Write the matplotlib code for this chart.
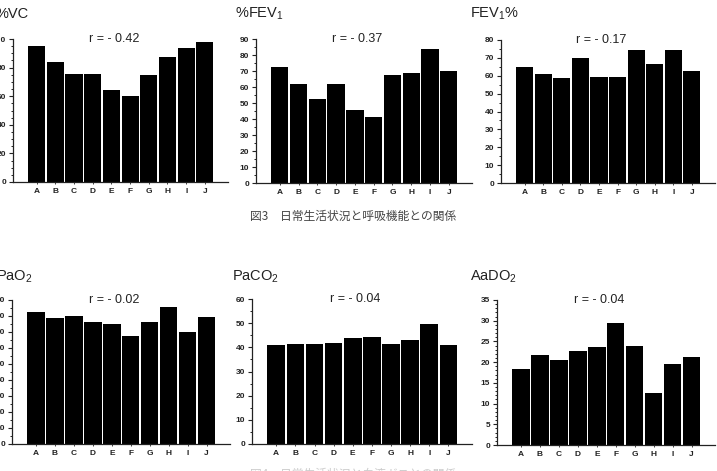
import matplotlib
matplotlib.use("Agg")
from matplotlib import pyplot as plt
from matplotlib.ticker import MultipleLocator

plt.rcParams['font.family'] = ['Liberation Sans', 'DejaVu Sans']
plt.rcParams['mathtext.default'] = 'regular'

CATEGORIES = ['A', 'B', 'C', 'D', 'E', 'F', 'G', 'H', 'I', 'J']

# 上段: 呼吸機能
VC = [95.1, 84.2, 75.6, 75.6, 64.4, 59.8, 74.9, 87.2, 93.5, 97.9]
FEV1 = [72.2, 61.8, 52.8, 61.8, 45.9, 41.1, 67.2, 68.5, 83.7, 70.1]
FEV1_RATIO = [65.0, 60.7, 58.7, 70.1, 59.1, 59.4, 74.2, 66.5, 74.2, 62.8]
# 下段: 血液ガス
PAO2 = [82.3, 78.6, 79.8, 76.5, 75.3, 67.4, 76.5, 85.9, 70.3, 79.6]
PACO2 = [41.0, 41.3, 41.3, 41.7, 43.7, 44.2, 41.3, 43.2, 49.7, 40.9]
AADO2 = [18.4, 21.8, 20.4, 22.8, 23.6, 29.4, 23.8, 12.6, 19.5, 21.3]

TITLES = ['%VC', '%FEV$_1$', 'FEV$_1$%', 'PaO$_2$', 'PaCO$_2$', 'AaDO$_2$']
R_LABELS = ['r = - 0.42', 'r = - 0.37', 'r = - 0.17',
            'r = - 0.02', 'r = - 0.04', 'r = - 0.04']
YMAX = [100, 90, 80, 90, 60, 35]
YSTEP = [20, 10, 10, 10, 10, 5]
YMINOR = [5, 5, 5, 5, 5, 1]
SERIES = [VC, FEV1, FEV1_RATIO, PAO2, PACO2, AADO2]

CAPTION_TOP = '図3　日常生活状況と呼吸機能との関係'
CAPTION_BOTTOM = '図4　日常生活状況と血液ガスとの関係'

W, H = 717, 471
fig = plt.figure(figsize=(W / 100, H / 100), dpi=100)

# axes boxes in pixels: left, top, right, bottom
boxes = [
    (13, 39, 228, 182),
    (256, 39, 472, 183),
    (501, 40, 715, 183),
    (12, 300, 230, 444),
    (252, 299, 472, 444),
    (497, 300, 715, 445),
]
title_pos = [(-4, 14), (235, 14), (470, 14), (-4, 277), (232, 277), (470, 277)]

for i in range(6):
    l, t, r, b = boxes[i]
    ax = fig.add_axes([l / W, 1 - b / H, (r - l) / W, (b - t) / H])
    x = list(range(len(CATEGORIES)))
    ax.bar(x, SERIES[i], width=0.92, color='black', edgecolor='none')
    ax.set_xlim(-1.27, 10.24)
    ax.set_ylim(0, YMAX[i])
    ax.yaxis.set_major_locator(MultipleLocator(YSTEP[i]))
    ax.yaxis.set_minor_locator(MultipleLocator(YMINOR[i]))
    ax.set_xticks(x)
    ax.set_xticklabels(CATEGORIES)
    for s in ['top', 'right']:
        ax.spines[s].set_visible(False)
    for s in ['left', 'bottom']:
        ax.spines[s].set_linewidth(0.9)
        ax.spines[s].set_color('#222222')
    ax.tick_params(axis='y', which='major', length=3, width=0.8, pad=2,
                   labelsize=6, colors='#222222')
    ax.tick_params(axis='y', which='minor', length=1.5, width=0.6)
    ax.tick_params(axis='x', length=1.5, width=0.6, pad=3, labelsize=6,
                   colors='#222222')
    for lab in ax.get_xticklabels() + ax.get_yticklabels():
        lab.set_fontweight('bold')
    ax.text(0.47, 1.0, R_LABELS[i], transform=ax.transAxes, ha='center',
            va='center', fontsize=9, color='#222222')
    tx, ty = title_pos[i]
    fig.text(tx / W, 1 - ty / H, TITLES[i], ha='left', va='center',
             fontsize=10.5, color='#222222')

fig.text(250 / W, 1 - 216 / H, CAPTION_TOP, ha='left', va='center',
         fontsize=8.5, color='#444444',
         family=['Noto Sans CJK JP', 'DejaVu Sans'])
# 下の図の説明は画像の下端で切れている
fig.text(250 / W, 1 - 474 / H, CAPTION_BOTTOM, ha='left', va='center',
         fontsize=8.5, color='#cccccc',
         family=['Noto Sans CJK JP', 'DejaVu Sans'])

fig.savefig('out.png', dpi=100)
